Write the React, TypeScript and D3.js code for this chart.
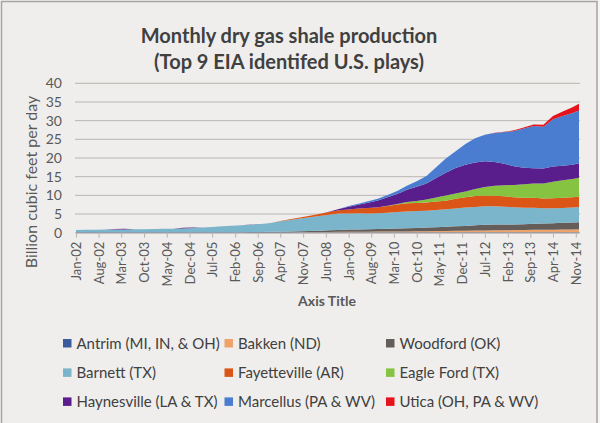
import * as d3 from 'd3'
import { useEffect, useRef } from 'react'

// quarterly samples (Bcf/d)
const months = [
  'Jan-02', 'Apr-02', 'Jul-02', 'Oct-02', 'Jan-03', 'Apr-03', 'Jul-03', 'Oct-03',
  'Jan-04', 'Apr-04', 'Jul-04', 'Oct-04', 'Jan-05', 'Apr-05', 'Jul-05', 'Oct-05',
  'Jan-06', 'Apr-06', 'Jul-06', 'Oct-06', 'Jan-07', 'Apr-07', 'Jul-07', 'Oct-07',
  'Jan-08', 'Apr-08', 'Jul-08', 'Oct-08', 'Jan-09', 'Apr-09', 'Jul-09', 'Oct-09',
  'Jan-10', 'Apr-10', 'Jul-10', 'Oct-10', 'Jan-11', 'Apr-11', 'Jul-11', 'Oct-11',
  'Jan-12', 'Apr-12', 'Jul-12', 'Oct-12', 'Jan-13', 'Apr-13', 'Jul-13', 'Oct-13',
  'Jan-14', 'Apr-14', 'Jul-14', 'Oct-14', 'Dec-14',
]

const antrim = [
  0.12, 0.12, 0.12, 0.12, 0.12, 0.12, 0.12, 0.12, 0.12, 0.12, 0.12, 0.12,
  0.12, 0.12, 0.12, 0.12, 0.12, 0.12, 0.12, 0.12, 0.11, 0.11, 0.11, 0.11,
  0.11, 0.11, 0.11, 0.11, 0.11, 0.11, 0.11, 0.11, 0.1, 0.1, 0.1, 0.1,
  0.1, 0.1, 0.1, 0.1, 0.1, 0.1, 0.1, 0.1, 0.1, 0.1, 0.1, 0.1,
  0.1, 0.1, 0.1, 0.1, 0.1,
]

const bakken = [
  0, 0, 0, 0, 0, 0, 0, 0, 0, 0, 0, 0, 0, 0, 0, 0, 0, 0, 0, 0,
  0.02, 0.03, 0.04, 0.05, 0.06, 0.08, 0.1, 0.12, 0.14, 0.15, 0.17, 0.19,
  0.2, 0.22, 0.25, 0.28, 0.3, 0.33, 0.36, 0.4, 0.42, 0.46, 0.5, 0.55,
  0.58, 0.6, 0.64, 0.67, 0.68, 0.7, 0.74, 0.78, 0.8,
]

const woodford = [
  0, 0, 0, 0, 0, 0, 0, 0, 0, 0, 0, 0, 0, 0, 0, 0,
  0.02, 0.03, 0.05, 0.08, 0.1, 0.13, 0.17, 0.22, 0.28, 0.35, 0.42, 0.5,
  0.58, 0.62, 0.66, 0.7, 0.75, 0.8, 0.85, 0.9, 0.98, 1.05, 1.1, 1.2,
  1.3, 1.45, 1.55, 1.55, 1.5, 1.5, 1.55, 1.6, 1.65, 1.75, 1.8, 1.85, 1.9,
]

const barnett = [
  0.63, 0.66, 0.68, 0.72, 0.75, 0.77, 0.8, 0.83, 0.88, 0.92, 0.97, 1.03,
  1.12, 1.25, 1.42, 1.58, 1.75, 1.85, 1.95, 2.15, 2.35, 2.8, 3.1, 3.45,
  3.7, 3.95, 4.2, 4.4, 4.3, 4.3, 4.2, 4.2, 4.3, 4.4, 4.5, 4.5,
  4.5, 4.6, 4.7, 4.8, 4.9, 4.9, 4.9, 4.85, 4.8, 4.6, 4.4, 4.3,
  4.1, 4.0, 4.0, 4.05, 4.1,
]

const fayetteville = [
  0, 0, 0, 0, 0, 0, 0, 0, 0, 0, 0, 0, 0, 0, 0, 0, 0, 0, 0, 0,
  0.03, 0.08, 0.15, 0.25, 0.38, 0.52, 0.7, 0.9, 1.1, 1.3, 1.45, 1.6,
  1.8, 2.0, 2.2, 2.2, 2.2, 2.25, 2.3, 2.6, 2.8, 2.9, 2.9, 2.85,
  2.75, 2.7, 2.7, 2.7, 2.65, 2.7, 2.7, 2.7, 2.7,
]

const eagleFord = [
  0, 0, 0, 0, 0, 0, 0, 0, 0, 0, 0, 0, 0, 0, 0, 0,
  0, 0, 0, 0, 0, 0, 0, 0, 0, 0, 0, 0, 0, 0, 0, 0,
  0.05, 0.15, 0.3, 0.5, 0.8, 1.1, 1.4, 1.4, 1.5, 1.9, 2.3, 2.7,
  3.0, 3.3, 3.6, 3.8, 4.0, 4.4, 4.7, 4.9, 5.1,
]

const haynesville = [
  0, 0, 0, 0, 0.15, 0.15, 0, 0, 0, 0, 0, 0.15,
  0.12, 0, 0, 0, 0, 0, 0.1, 0, 0, 0, 0, 0,
  0, 0, 0.1, 0.3, 0.7, 1.0, 1.4, 1.8, 2.3, 2.7, 3.3, 3.8,
  4.3, 5.2, 6.1, 6.8, 7.2, 7.1, 6.9, 6.3, 5.7, 5.0, 4.4, 4.1,
  4.0, 4.1, 3.9, 3.8, 3.9,
]

const marcellus = [
  0, 0, 0, 0, 0, 0, 0, 0, 0, 0, 0, 0, 0, 0, 0, 0, 0, 0, 0, 0,
  0, 0, 0, 0, 0, 0, 0, 0,
  0.2, 0.3, 0.4, 0.5, 0.6, 0.8, 1.1, 1.5, 2.0, 2.9, 3.8, 4.5,
  5.5, 6.5, 7.1, 7.8, 8.5, 9.4, 10.5, 11.3, 11.2, 12.6, 13.3, 13.9, 14.1,
]

const utica = [
  0, 0, 0, 0, 0, 0, 0, 0, 0, 0, 0, 0, 0, 0, 0, 0, 0, 0, 0, 0,
  0, 0, 0, 0, 0, 0, 0, 0, 0, 0, 0, 0, 0, 0, 0, 0, 0, 0, 0, 0,
  0, 0, 0,
  0.05, 0.1, 0.2, 0.3, 0.4, 0.5, 0.9, 1.2, 1.5, 1.8,
]

const seriesNames = [
  'Antrim (MI, IN, & OH)',
  'Bakken (ND)',
  'Woodford (OK)',
  'Barnett (TX)',
  'Fayetteville (AR)',
  'Eagle Ford (TX)',
  'Haynesville (LA & TX)',
  'Marcellus (PA & WV)',
  'Utica (OH, PA & WV)',
]
const seriesValues = [
  antrim, bakken, woodford, barnett, fayetteville, eagleFord, haynesville, marcellus, utica,
]
const colors = [
  '#3a5b9c', '#eea36a', '#645d59', '#7bb5cb', '#db5516',
  '#86c341', '#5a1d8c', '#4a7dd0', '#e5131b',
]

const xTickLabels = [
  'Jan-02', 'Aug-02', 'Mar-03', 'Oct-03', 'May-04', 'Dec-04', 'Jul-05', 'Feb-06',
  'Sep-06', 'Apr-07', 'Nov-07', 'Jun-08', 'Jan-09', 'Aug-09', 'Mar-10', 'Oct-10',
  'May-11', 'Dec-11', 'Jul-12', 'Feb-13', 'Sep-13', 'Apr-14', 'Nov-14',
]
const yTicks = [0, 5, 10, 15, 20, 25, 30, 35, 40]

export default function App() {
  const ref = useRef<SVGSVGElement>(null)

  useEffect(() => {
    if (!ref.current) return
    const svg = d3.select(ref.current)
    svg.selectAll('*').remove()

    const width = 600
    const height = 423
    const font = 'Lato, "Open Sans", sans-serif'
    const parse = d3.timeParse('%b-%y')
    const dates = months.map(m => parse(m) as Date)

    // background + frame
    svg.append('rect').attr('width', width).attr('height', height).attr('fill', '#f4f4f3')
    svg
      .append('rect')
      .attr('x', 1.5)
      .attr('y', 1.5)
      .attr('width', 595.5)
      .attr('height', 440)
      .attr('fill', '#efeeec')
      .attr('stroke', '#a7a39f')
      .attr('stroke-width', 1.5)

    const x = d3
      .scaleTime()
      .domain([dates[0], dates[dates.length - 1]])
      .range([76, 579])
    const y = d3.scaleLinear().domain([0, 40]).range([232.7, 83.3])

    // Gridlines
    svg
      .append('g')
      .selectAll('line')
      .data(yTicks)
      .enter()
      .append('line')
      .attr('x1', 75)
      .attr('x2', 580)
      .attr('y1', d => y(d))
      .attr('y2', d => y(d))
      .attr('stroke', '#b8b5b1')
      .attr('stroke-width', 1)

    // Y labels
    svg
      .append('g')
      .selectAll('text')
      .data(yTicks)
      .enter()
      .append('text')
      .attr('x', 62)
      .attr('y', d => y(d))
      .attr('dy', '0.36em')
      .attr('text-anchor', 'end')
      .style('font-family', font)
      .style('font-size', '14px')
      .style('fill', '#595959')
      .text(d => d)

    // Stacked areas
    const rows = dates.map((date, i) => {
      const row: Record<string, any> = { date }
      seriesNames.forEach((n, k) => (row[n] = seriesValues[k][i]))
      return row
    })
    const stacked = d3.stack<Record<string, any>>().keys(seriesNames)(rows)
    const area = d3
      .area<d3.SeriesPoint<Record<string, any>>>()
      .x(d => x(d.data.date))
      .y0(d => y(d[0]))
      .y1(d => y(d[1]))

    svg
      .append('g')
      .selectAll('path')
      .data(stacked)
      .enter()
      .append('path')
      .attr('d', area)
      .attr('fill', (_, i) => colors[i])

    // X axis
    const tickDates = xTickLabels.map(l => parse(l) as Date)
    const xAxis = svg
      .append('g')
      .attr('transform', `translate(0,${y(0)})`)
      .call(
        d3
          .axisBottom(x)
          .tickValues(tickDates)
          .tickFormat((_, i) => xTickLabels[i])
          .tickSize(5)
          .tickSizeOuter(0)
      )
    xAxis.select('.domain').attr('stroke', '#b8b5b1')
    xAxis.selectAll('line').attr('stroke', '#b8b5b1')
    xAxis
      .selectAll('text')
      .attr('transform', 'rotate(-90)')
      .attr('text-anchor', 'end')
      .attr('x', -9)
      .attr('y', 0)
      .attr('dy', '0.35em')
      .style('font-family', font)
      .style('font-size', '13px')
      .style('fill', '#595959')

    // Titles
    const title = svg
      .append('text')
      .attr('text-anchor', 'middle')
      .style('font-family', font)
      .style('font-size', '20px')
      .style('font-weight', 'bold')
      .style('fill', '#404040')
    title.append('tspan').attr('x', 289).attr('y', 43).text('Monthly dry gas shale production')
    title.append('tspan').attr('x', 289).attr('y', 69).text('(Top 9 EIA identifed U.S. plays)')

    svg
      .append('text')
      .attr('transform', 'translate(37,182) rotate(-90)')
      .attr('text-anchor', 'middle')
      .style('font-family', font)
      .style('font-size', '16px')
      .style('fill', '#595959')
      .text('Billion cubic feet per day')

    svg
      .append('text')
      .attr('x', 327)
      .attr('y', 306)
      .attr('text-anchor', 'middle')
      .style('font-family', font)
      .style('font-size', '14px')
      .style('font-weight', 'bold')
      .style('fill', '#595959')
      .text('Axis Title')

    // Legend
    const colX = [63, 224.5, 386]
    const rowY = [343.3, 372.7, 401.7]
    const legend = svg
      .append('g')
      .selectAll('g')
      .data(seriesNames)
      .enter()
      .append('g')
      .attr('transform', (_, i) => `translate(${colX[i % 3]},${rowY[Math.floor(i / 3)]})`)
    legend
      .append('rect')
      .attr('x', 0)
      .attr('y', -4.3)
      .attr('width', 8.5)
      .attr('height', 8.5)
      .attr('fill', (_, i) => colors[i])
    legend
      .append('text')
      .attr('x', 13.5)
      .attr('dy', '0.36em')
      .style('font-family', font)
      .style('font-size', '15px')
      .style('fill', '#404040')
      .text(d => d)
  }, [])

  return (
    <svg
      ref={ref}
      width={600}
      height={423}
      style={{ position: 'absolute', left: 0, top: 0, display: 'block' }}
    ></svg>
  )
}
